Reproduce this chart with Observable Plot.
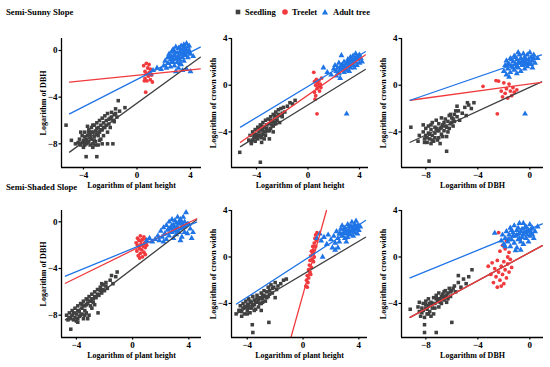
<!DOCTYPE html>
<html><head><meta charset="utf-8">
<script src="https://cdn.jsdelivr.net/npm/d3@7"></script>
<script src="https://cdn.jsdelivr.net/npm/@observablehq/plot@0.6"></script>
<style>
body{margin:0;background:#fff;}
#root{position:relative;width:550px;height:367px;overflow:hidden;font-family:"Liberation Serif","Times New Roman",serif;font-weight:bold;color:#000;}
.abs{position:absolute;white-space:nowrap;line-height:1;}
.panel{position:absolute;}
</style></head><body><div id="root"></div>
<script>
// ---------- data ----------
const groups = ["Seedling", "Treelet", "Adult tree"];
const colors = ["#404040", "#f03a3d", "#1f74e6"];
const symbols = ["square", "circle", "triangle"];
const rowTitles = ["Semi-Sunny Slope", "Semi-Shaded Slope"];
const xLabels = ["Logarithm of plant height", "Logarithm of plant height", "Logarithm of DBH"];
const yLabels = ["Logarithm of DBH", "Logarithm of crown width", "Logarithm of crown width"];
const ticksHeight = [-4, 0, 4];
const ticksDBH = [-8, -4, 0];
const ticksDBHy = [-8, -4, 0];
const ticksCrown = [-4, 0, 4];

// Semi-sunny: plant height vs DBH
const p1Seed = [[-5.3,-6.4],[-4.9,-7.7],[-4.4,-7.9],[-4.3,-7.6],[-4.2,-8.1],[-4.1,-7.3],[-4.0,-7.7],[-4.0,-8.3],[-3.9,-7.0],[-3.8,-7.6],[-3.8,-8.0],[-3.7,-7.3],[-3.6,-6.8],[-3.6,-7.8],[-3.5,-8.1],[-3.5,-7.2],[-3.4,-6.6],[-3.4,-7.6],[-3.3,-7.0],[-3.3,-8.0],[-3.2,-6.4],[-3.2,-7.4],[-3.1,-6.9],[-3.1,-7.8],[-3.0,-6.2],[-3.0,-7.2],[-2.9,-6.6],[-2.9,-8.1],[-2.8,-6.0],[-2.8,-7.0],[-2.7,-6.4],[-2.7,-7.6],[-2.6,-5.8],[-2.6,-6.8],[-2.5,-6.2],[-2.4,-5.6],[-2.4,-6.6],[-2.3,-6.0],[-2.2,-5.4],[-2.1,-6.3],[-2.0,-5.8],[-1.9,-5.3],[-1.8,-6.0],[-1.7,-5.5],[-1.6,-5.0],[-1.5,-5.7],[-1.4,-4.3],[-1.3,-5.2],[-0.9,-4.9],[-3.8,-9.1],[-3.0,-9.1],[-4.6,-8.0],[-3.3,-8.3],[-2.6,-8.0],[-2.2,-8.0],[-1.8,-8.0],[-4.2,-7.0],[-3.7,-6.5],[-2.2,-7.0],[-3.9,-7.9],[-3.1,-8.1],
  [-4.1,-7.9],[-3.9,-7.4],[-3.7,-7.9],[-3.5,-7.5],[-3.4,-7.0],[-3.2,-7.7],[-3.0,-6.7],[-2.9,-7.3],[-2.8,-7.7],[-2.7,-6.8],[-2.5,-6.6],[-2.5,-7.3],[-2.3,-6.4],[-2.1,-5.9],[-2.0,-6.6],[-1.9,-5.7],[-1.7,-6.1],[-1.6,-5.4],[-3.6,-7.0],[-3.9,-8.1],[-4.3,-8.0],[-3.3,-6.4]];
const p1Tree = [[0.5,-1.3],[0.6,-1.8],[0.6,-2.4],[0.7,-1.1],[0.7,-2.0],[0.75,-2.6],[0.8,-1.5],[0.85,-2.2],[0.9,-1.2],[0.9,-1.9],[1.0,-2.5],[1.0,-1.6],[1.1,-2.1],[1.15,-2.7],[0.55,-2.6],[0.65,-3.57]];
const p1Adult = [[2.0,-1.3],[2.1,-0.9],[2.2,-1.5],[2.3,-0.6],[2.3,-1.1],[2.4,-0.3],[2.5,-0.8],[2.5,-1.4],[2.6,-0.1],[2.6,-0.5],[2.7,-1.0],[2.7,0.1],[2.8,-0.4],[2.8,-1.3],[2.9,0.3],[2.9,-0.7],[3.0,-0.2],[3.0,-1.0],[3.1,0.2],[3.1,-0.5],[3.1,-1.5],[3.2,-0.1],[3.2,-0.8],[3.3,0.4],[3.3,-0.3],[3.3,-1.2],[3.4,0.1],[3.4,-0.6],[3.5,0.5],[3.5,-0.2],[3.5,-0.9],[3.6,0.2],[3.6,-0.4],[3.7,0.6],[3.7,-0.1],[3.7,-1.6],[3.8,0.3],[3.8,-0.6],[3.9,0.0],[4.0,-0.3],[4.0,-1.8],[4.2,-0.5],[3.4,-1.7],[1.2,-1.7],[1.5,-1.5],[1.8,-1.6],[1.0,-2.0],[2.9,-1.8],
  [2.4,-0.6],[2.6,-1.0],[2.8,-0.1],[3.0,-0.6],[3.2,0.2],[3.4,-0.3],[3.6,0.0],[3.8,-0.2],[3.2,-1.1],[2.7,-0.7],[3.5,0.2],[3.9,0.4]];
const p1Lines = [[[-5.04,-8.71],[4.73,-0.57]], [[-5.04,-2.71],[4.73,-1.57]], [[-5.04,-5.43],[4.73,0.29]]];

// Semi-sunny: plant height vs crown width
const p2Seed = [[-5.3,-5.75],[-3.7,-6.6],[-4.6,-4.7],[-4.5,-4.3],[-4.4,-4.9],[-4.3,-4.0],[-4.2,-4.5],[-4.1,-3.8],[-4.1,-4.8],[-4.0,-4.2],[-3.9,-3.6],[-3.9,-4.6],[-3.8,-4.0],[-3.7,-3.4],[-3.7,-4.4],[-3.6,-3.8],[-3.5,-4.2],[-3.5,-3.2],[-3.4,-3.6],[-3.4,-4.6],[-3.3,-3.0],[-3.3,-4.0],[-3.2,-3.4],[-3.1,-2.9],[-3.1,-3.9],[-3.0,-3.3],[-2.9,-2.7],[-2.9,-3.7],[-2.8,-3.1],[-2.7,-2.5],[-2.7,-3.5],[-2.6,-2.9],[-2.5,-2.3],[-2.5,-3.3],[-2.4,-2.7],[-2.3,-2.1],[-2.2,-2.6],[-2.1,-2.0],[-2.0,-2.4],[-1.9,-1.9],[-1.8,-2.3],[-1.6,-1.8],[-1.4,-1.5],[-1.2,-1.6],[-1.0,-1.3],[-3.0,-4.6],[-4.4,-5.0],[-3.6,-4.9],[-2.2,-3.2],[-2.7,-4.0],
  [-4.3,-4.7],[-4.0,-4.5],[-3.8,-4.3],[-3.6,-4.5],[-3.5,-3.9],[-3.2,-3.7],[-3.0,-3.9],[-2.8,-3.4],[-2.6,-3.2],[-2.4,-3.0],[-2.3,-2.5],[-2.0,-2.7],[-3.8,-3.7],[-4.2,-4.2],[-3.3,-4.3],[-2.9,-3.0],[-2.6,-2.6],[-3.6,-3.5]];
const p2Tree = [[0.45,1.1],[0.5,0.3],[0.5,-0.6],[0.55,-1.2],[0.6,0.0],[0.65,0.5],[0.7,-0.3],[0.75,0.2],[0.8,-0.1],[0.85,0.4],[0.9,-0.5],[0.95,0.1],[1.0,-0.2],[1.05,0.6],[0.6,-0.9],[0.7,-2.45],[0.9,0.0]];
const p2Adult = [[1.2,1.5],[1.5,1.1],[1.8,0.9],[2.0,1.4],[2.1,1.7],[2.2,1.2],[2.3,1.5],[2.4,1.9],[2.4,1.0],[2.5,1.3],[2.6,1.7],[2.6,2.55],[2.7,1.4],[2.8,2.0],[2.8,1.1],[2.9,1.6],[3.0,1.9],[3.0,1.3],[3.1,2.2],[3.1,1.6],[3.2,1.9],[3.3,2.4],[3.3,1.5],[3.4,2.1],[3.4,1.7],[3.5,2.5],[3.5,1.9],[3.6,2.2],[3.6,1.5],[3.7,2.7],[3.7,2.0],[3.8,2.4],[3.8,1.7],[3.9,2.2],[4.0,2.6],[4.0,1.9],[4.1,2.3],[4.2,2.0],[3.0,-2.45],[2.2,0.8],[2.5,0.6],[3.2,1.2],
  [2.7,1.7],[2.9,1.3],[3.1,1.9],[3.3,2.1],[3.5,1.7],[3.7,2.3],[3.9,2.5],[2.5,1.5],[3.2,1.6],[3.6,2.0]];
const p2Lines = [[[-5.24,-5.26],[4.45,1.35]], [[-5.24,-4.89],[4.45,2.59]], [[-5.24,-3.59],[4.45,2.87]]];

// Semi-sunny: DBH vs crown width
const p3Seed = [[-9.15,-3.6],[-8.5,-4.3],[-8.6,-4.8],[-7.75,-6.5],[-6.4,-5.66],[-8.2,-3.4],[-8.2,-4.0],[-8.1,-4.6],[-8.0,-3.7],[-8.0,-4.3],[-7.9,-4.9],[-7.8,-3.5],[-7.8,-4.1],[-7.7,-4.6],[-7.6,-3.8],[-7.5,-4.3],[-7.5,-3.2],[-7.4,-4.8],[-7.3,-3.6],[-7.3,-4.1],[-7.2,-3.0],[-7.1,-3.9],[-7.0,-4.5],[-7.0,-3.3],[-6.9,-3.7],[-6.8,-2.8],[-6.8,-4.2],[-6.7,-3.4],[-6.6,-3.9],[-6.5,-2.9],[-6.5,-3.5],[-6.4,-4.4],[-6.3,-3.1],[-6.2,-2.6],[-6.2,-3.7],[-6.1,-3.3],[-6.0,-2.8],[-5.9,-3.5],[-5.8,-2.5],[-5.8,-3.1],[-5.6,-2.7],[-5.5,-2.2],[-5.4,-3.0],[-5.2,-2.4],[-5.0,-1.9],[-4.9,-2.6],[-4.7,-1.7],[-4.5,-2.0],[-4.3,-1.5],[-4.8,-1.5],[-5.6,-1.8],[-7.6,-5.0],[-6.9,-5.0],
  [-7.9,-4.5],[-7.7,-4.2],[-7.5,-4.7],[-7.3,-4.5],[-7.2,-3.7],[-7.0,-3.9],[-6.8,-3.6],[-6.6,-3.2],[-6.4,-3.6],[-6.3,-4.0],[-6.0,-3.2],[-5.9,-2.9],[-7.6,-3.4],[-8.1,-4.9],[-7.1,-4.7],[-6.7,-4.4],[-6.1,-2.5],[-5.7,-2.2]];
const p3Tree = [[-3.6,-0.1],[-2.6,0.4],[-2.4,0.35],[-2.2,-0.5],[-2.0,0.2],[-1.9,-0.7],[-1.8,-0.3],[-1.7,-1.1],[-1.6,0.1],[-1.5,-0.5],[-1.4,-0.9],[-1.3,-0.2],[-2.1,-1.0],[-1.2,-0.6],[-2.5,-2.45],[-1.0,-0.4]];
const p3Adult = [[-2.0,1.2],[-1.9,1.7],[-1.8,0.9],[-1.8,2.1],[-1.7,1.4],[-1.6,1.8],[-1.5,1.1],[-1.5,2.3],[-1.4,1.6],[-1.3,2.0],[-1.2,1.3],[-1.2,2.5],[-1.1,1.8],[-1.0,2.2],[-1.0,1.0],[-0.9,1.5],[-0.8,2.6],[-0.8,1.9],[-0.7,1.2],[-0.7,2.3],[-0.6,1.7],[-0.5,2.7],[-0.5,2.0],[-0.4,1.4],[-0.4,2.4],[-0.3,1.9],[-0.2,2.6],[-0.2,1.6],[-0.1,2.2],[0.0,2.8],[0.0,1.8],[0.1,2.4],[0.2,2.1],[0.3,2.6],[0.4,1.9],[0.6,2.3],[-1.6,0.7],[-0.37,-2.45],[-0.9,2.8],[0.2,1.5],
  [-1.7,1.8],[-1.4,2.2],[-1.3,1.5],[-1.1,2.4],[-0.9,1.9],[-0.6,2.1],[-0.3,2.2],[-0.1,1.9],[0.1,1.8],[-1.0,1.6],[-0.4,1.8],[0.3,2.3]];
const p3Lines = [[[-9.2,-4.89],[0.9,0.29]], [[-9.2,-1.29],[0.9,0.25]], [[-9.2,-1.29],[0.9,2.59]]];

// Semi-shaded: plant height vs DBH
const p4Seed = [[-4.7,-8.0],[-4.6,-8.4],[-4.5,-7.8],[-4.4,-8.3],[-4.4,-9.2],[-4.3,-7.6],[-4.3,-8.0],[-4.2,-8.4],[-4.1,-7.4],[-4.0,-7.9],[-3.9,-7.2],[-3.9,-8.3],[-3.8,-7.7],[-3.7,-7.0],[-3.7,-8.0],[-3.6,-7.4],[-3.5,-6.8],[-3.5,-8.3],[-3.4,-7.2],[-3.3,-6.6],[-3.3,-7.8],[-3.2,-7.0],[-3.1,-6.4],[-3.1,-8.0],[-3.0,-6.8],[-2.9,-6.2],[-2.9,-7.4],[-2.8,-6.6],[-2.7,-6.0],[-2.6,-6.5],[-2.5,-5.8],[-2.4,-6.3],[-2.3,-5.6],[-2.2,-6.1],[-2.1,-5.4],[-2.0,-5.9],[-1.9,-5.2],[-1.8,-5.7],[-1.6,-5.0],[-1.4,-5.3],[-1.2,-4.7],[-1.1,-4.3],[-2.46,-7.8],[-3.6,-7.9],[-4.0,-8.5],[-3.2,-8.3],[-2.7,-7.1],[-1.5,-4.6],
  [-4.5,-8.2],[-4.2,-7.8],[-4.1,-8.2],[-3.9,-7.6],[-3.8,-8.1],[-3.6,-7.1],[-3.4,-7.6],[-3.3,-7.1],[-3.2,-6.7],[-3.0,-7.2],[-2.8,-6.9],[-2.7,-6.4],[-2.5,-6.2],[-2.3,-5.9],[-2.1,-5.8],[-1.9,-5.5],[-3.4,-8.0],[-3.9,-8.6],[-2.9,-6.6],[-2.2,-5.3]];
const p4Tree = [[0.25,-1.8],[0.3,-2.5],[0.35,-1.4],[0.4,-2.1],[0.4,-2.9],[0.45,-1.6],[0.5,-2.3],[0.55,-1.2],[0.55,-2.7],[0.6,-1.9],[0.65,-2.4],[0.7,-1.5],[0.7,-3.0],[0.75,-2.1],[0.8,-1.3],[0.8,-2.6],[0.85,-1.8],[0.9,-2.2],[0.95,-1.5],[1.0,-2.0],[0.5,-3.1],[0.35,-2.0],[0.9,-2.8],[0.6,-1.6]];
const p4Adult = [[1.0,-1.6],[1.2,-1.4],[1.4,-1.7],[1.6,-1.5],[1.8,-1.2],[1.9,-1.6],[2.0,-0.8],[2.1,-1.3],[2.2,-0.5],[2.3,-1.0],[2.4,-0.3],[2.4,-1.5],[2.5,-0.7],[2.6,-1.2],[2.6,0.0],[2.7,-0.5],[2.8,-0.9],[2.8,0.2],[2.9,-0.3],[2.9,-1.4],[3.0,-0.7],[3.0,0.1],[3.1,-0.1],[3.1,-1.1],[3.2,-0.5],[3.2,0.4],[3.3,-0.2],[3.3,-0.9],[3.4,0.2],[3.4,-0.6],[3.5,-0.1],[3.5,-1.3],[3.6,0.4],[3.6,-0.4],[3.7,-0.9],[3.7,0.0],[3.8,0.8],[3.8,-0.3],[3.9,-1.0],[4.0,-0.2],[4.1,-0.6],[4.2,-1.4],[4.3,-0.9],[3.4,-1.6],[2.2,-1.7],
  [2.6,-0.6],[2.9,-0.6],[3.1,-0.5],[3.3,0.0],[3.5,-0.5],[3.7,-0.4],[3.9,-0.2],[3.1,-0.8],[3.4,-0.1],[2.8,-0.3]];
const p4Lines = [[[-4.78,-8.4],[4.56,0.17]], [[-4.78,-5.26],[4.56,0.26]], [[-4.78,-4.66],[4.56,-0.03]]];

// Semi-shaded: plant height vs crown width
const p5Seed = [[-4.8,-4.9],[-4.6,-4.6],[-4.5,-4.2],[-4.4,-4.7],[-4.3,-4.0],[-4.3,-4.4],[-4.2,-4.9],[-4.1,-3.8],[-4.1,-4.3],[-4.0,-4.6],[-3.9,-3.6],[-3.9,-4.1],[-3.8,-4.8],[-3.7,-3.9],[-3.7,-4.4],[-3.6,-3.4],[-3.5,-4.1],[-3.5,-3.7],[-3.4,-4.5],[-3.3,-3.3],[-3.3,-3.9],[-3.2,-4.3],[-3.1,-3.5],[-3.0,-3.1],[-3.0,-4.0],[-2.9,-3.6],[-2.8,-2.9],[-2.8,-3.3],[-2.7,-3.8],[-2.6,-3.0],[-2.5,-2.6],[-2.5,-3.4],[-2.4,-2.9],[-2.3,-2.4],[-2.2,-3.1],[-2.1,-2.6],[-2.0,-2.2],[-1.9,-2.8],[-1.8,-2.5],[-1.6,-2.3],[-1.4,-2.0],[-1.2,-1.9],[-3.64,-5.83],[-3.6,-6.5],[-2.45,-5.63],[-3.0,-4.6],[-2.0,-3.5],[-4.4,-5.1],
  [-4.5,-4.6],[-4.2,-4.3],[-4.0,-4.1],[-3.9,-4.4],[-3.8,-3.8],[-3.6,-4.2],[-3.4,-3.9],[-3.2,-3.7],[-3.1,-4.0],[-2.9,-3.3],[-2.7,-3.4],[-2.6,-3.5],[-2.4,-3.2],[-2.2,-2.7],[-4.0,-4.9],[-3.5,-4.6],[-3.3,-3.6],[-2.9,-3.9]];
const p5Tree = [[0.2,-2.5],[0.25,-2.0],[0.3,-1.6],[0.35,-2.2],[0.4,-1.1],[0.4,-1.8],[0.45,-0.7],[0.5,-1.3],[0.5,-0.3],[0.55,0.1],[0.6,-0.9],[0.6,0.5],[0.65,-0.2],[0.7,0.3],[0.7,0.9],[0.75,0.6],[0.8,1.2],[0.8,0.0],[0.85,1.6],[0.9,0.9],[0.95,1.4],[1.0,2.1],[0.9,1.9],[0.3,-2.6],[0.55,-1.5],[0.75,-0.4]];
const p5Adult = [[1.0,1.6],[1.2,2.0],[1.3,1.4],[1.4,0.0],[1.5,1.7],[1.7,1.1],[1.8,1.9],[2.0,1.5],[2.1,0.8],[2.2,1.8],[2.3,1.2],[2.4,2.2],[2.5,1.6],[2.6,2.0],[2.6,1.3],[2.7,2.4],[2.8,1.8],[2.8,2.7],[2.9,2.1],[3.0,1.6],[3.0,2.5],[3.1,2.0],[3.2,2.8],[3.2,1.7],[3.3,2.3],[3.4,2.6],[3.4,1.9],[3.5,3.0],[3.5,2.2],[3.6,2.5],[3.6,1.8],[3.7,2.8],[3.7,2.1],[3.8,2.4],[3.8,3.1],[3.9,2.0],[3.9,2.7],[4.0,2.3],[4.1,2.6],[2.5,0.8],[2.3,0.6],[3.1,1.3],
  [2.9,2.4],[3.1,2.3],[3.3,2.0],[3.5,2.6],[3.7,2.4],[3.9,2.4],[3.3,2.6],[3.6,2.2],[2.7,2.0],[4.0,2.7]];
const p5Lines = [[[-4.77,-4.9],[4.48,1.7]], [[-0.9,-7.06],[1.68,4.0]], [[-4.77,-4.05],[4.48,3.14]]];

// Semi-shaded: DBH vs crown width
const p6Seed = [[-9.2,-4.5],[-8.6,-4.3],[-8.5,-3.9],[-8.5,-4.7],[-8.4,-5.1],[-8.2,-4.0],[-8.2,-4.6],[-8.1,-5.2],[-8.0,-3.8],[-8.0,-4.4],[-7.9,-4.9],[-7.8,-3.6],[-7.8,-4.2],[-7.7,-4.7],[-7.6,-3.9],[-7.5,-4.4],[-7.4,-3.5],[-7.4,-4.9],[-7.3,-4.0],[-7.2,-3.3],[-7.1,-3.8],[-7.0,-4.3],[-7.0,-3.1],[-6.9,-3.6],[-6.8,-4.0],[-6.7,-3.2],[-6.6,-3.7],[-6.5,-2.9],[-6.5,-3.4],[-6.4,-3.9],[-6.3,-3.1],[-6.2,-2.7],[-6.1,-3.4],[-6.0,-2.9],[-5.8,-2.5],[-5.7,-3.0],[-5.5,-2.2],[-5.3,-2.6],[-5.1,-1.9],[-4.9,-2.3],[-4.7,-1.7],[-4.45,-1.1],[-8.1,-5.83],[-8.1,-6.5],[-7.2,-6.5],[-6.0,-5.63],[-7.6,-5.1],[-5.5,-1.6],
  [-8.3,-4.4],[-8.0,-4.1],[-7.9,-4.5],[-7.7,-4.0],[-7.5,-4.0],[-7.3,-4.4],[-7.2,-3.6],[-6.9,-3.9],[-6.8,-3.4],[-6.6,-3.5],[-6.4,-3.3],[-6.3,-3.6],[-6.1,-3.0],[-5.9,-2.7],[-7.8,-4.9],[-8.3,-4.8],[-7.0,-3.6],[-6.6,-3.0]];
const p6Tree = [[-3.2,-0.8],[-3.0,-1.5],[-2.9,-0.5],[-2.8,-2.2],[-2.7,-1.0],[-2.6,-1.7],[-2.5,-2.6],[-2.5,-0.3],[-2.4,-1.3],[-2.3,-2.0],[-2.2,-0.8],[-2.1,-1.5],[-2.0,-2.3],[-2.0,-0.4],[-1.9,-1.1],[-1.8,-1.8],[-1.7,-0.6],[-1.6,-1.3],[-1.5,-0.2],[-1.4,-0.9],[-1.7,0.0],[-2.3,0.5],[-2.1,1.0],[-1.9,0.7],[-1.8,1.4],[-2.4,2.1],[-1.6,0.4],[-2.2,-2.5]];
const p6Adult = [[-2.7,2.05],[-2.2,1.4],[-2.1,1.9],[-2.0,1.1],[-1.9,1.6],[-1.8,2.2],[-1.7,1.3],[-1.6,1.9],[-1.5,2.5],[-1.5,0.9],[-1.4,1.5],[-1.3,2.1],[-1.2,1.2],[-1.2,2.7],[-1.1,1.8],[-1.0,2.3],[-1.0,0.8],[-0.9,1.5],[-0.8,2.0],[-0.8,2.9],[-0.7,1.3],[-0.6,2.4],[-0.6,1.7],[-0.5,2.9],[-0.5,1.1],[-0.4,2.1],[-0.3,1.6],[-0.3,2.6],[-0.2,1.9],[-0.1,2.3],[-0.1,1.3],[0.0,2.8],[0.0,1.8],[0.1,2.1],[0.2,2.5],[0.3,1.6],[0.4,2.2],[0.6,2.6],[-1.1,0.55],[-0.7,0.6],[-1.9,0.9],
  [-1.6,1.5],[-1.3,1.8],[-1.0,1.9],[-0.8,1.6],[-0.7,2.2],[-0.4,2.5],[-0.2,2.2],[0.1,2.4],[-1.4,2.3],[-0.5,1.9],[-0.9,2.5],[0.2,1.9]];
const p6Lines = [[[-9.21,-5.2],[0.96,0.98]], [[-9.21,-5.2],[0.96,0.98]], [[-9.21,-1.8],[0.96,2.85]]];

// ---------- layout ----------
const root = document.getElementById("root");
function addText(txt, left, top, size) {
  const d = document.createElement("div");
  d.className = "abs";
  d.textContent = txt;
  d.style.left = left + "px"; d.style.top = top + "px"; d.style.fontSize = size + "px";
  root.appendChild(d);
}
addText(rowTitles[0], 6, 7.5, 8.7);
addText(rowTitles[1], 6, 182.5, 8.7);

// legend
const legendPos = [[237.7, 245], [285, 292], [325, 333]];
groups.forEach((g, i) => {
  const s = document.createElementNS("http://www.w3.org/2000/svg", "svg");
  s.setAttribute("width", 8); s.setAttribute("height", 8);
  s.style.position = "absolute";
  s.style.left = (legendPos[i][0] - 4) + "px"; s.style.top = "7.5px";
  let shape;
  if (i === 0) { shape = document.createElementNS(s.namespaceURI, "rect"); shape.setAttribute("x", 1.7); shape.setAttribute("y", 1.7); shape.setAttribute("width", 4.6); shape.setAttribute("height", 4.6); }
  else if (i === 1) { shape = document.createElementNS(s.namespaceURI, "circle"); shape.setAttribute("cx", 4); shape.setAttribute("cy", 4); shape.setAttribute("r", 2.8); }
  else { shape = document.createElementNS(s.namespaceURI, "path"); shape.setAttribute("d", "M4,0.9L7.1,6.5L0.9,6.5Z"); }
  shape.setAttribute("fill", colors[i]);
  s.appendChild(shape);
  root.appendChild(s);
  addText(g, legendPos[i][1], 7.5, 8.5);
});

const panels = [
  {left:0, top:28, width:205, height:165, ml:61, mr:4, mt:10, mb:26, xd:[-5.64,4.82], yd:[-10.03,1.03], xt:ticksHeight, yt:ticksDBHy, xl:xLabels[0], yl:yLabels[0], data:[p1Seed,p1Tree,p1Adult], lines:p1Lines},
  {left:195, top:28, width:177, height:165, ml:36, mr:4, mt:10, mb:26, xd:[-5.94,4.70], yd:[-7.05,4.0], xt:ticksHeight, yt:ticksCrown, xl:xLabels[1], yl:yLabels[1], data:[p2Seed,p2Tree,p2Adult], lines:p2Lines},
  {left:365, top:28, width:185, height:165, ml:36, mr:7, mt:10, mb:26, xd:[-9.87,1.05], yd:[-7.05,4.0], xt:ticksDBH, yt:ticksCrown, xl:xLabels[2], yl:yLabels[2], data:[p3Seed,p3Tree,p3Adult], lines:p3Lines},
  {left:0, top:198, width:205, height:167, ml:61, mr:4, mt:12, mb:28, xd:[-5.06,4.9], yd:[-9.91,0.97], xt:ticksHeight, yt:ticksDBHy, xl:xLabels[0], yl:yLabels[0], data:[p4Seed,p4Tree,p4Adult], lines:p4Lines},
  {left:195, top:198, width:177, height:167, ml:36, mr:5, mt:12, mb:28, xd:[-5.13,4.62], yd:[-6.93,4.0], xt:ticksHeight, yt:ticksCrown, xl:xLabels[1], yl:yLabels[1], data:[p5Seed,p5Tree,p5Adult], lines:p5Lines},
  {left:365, top:198, width:185, height:167, ml:36, mr:7, mt:12, mb:28, xd:[-9.87,1.05], yd:[-6.93,4.0], xt:ticksDBH, yt:ticksCrown, xl:xLabels[2], yl:yLabels[2], data:[p6Seed,p6Tree,p6Adult], lines:p6Lines}
];

const radii = [2.0, 1.9, 2.2];
panels.forEach(p => {
  const marks = [];
  p.data.forEach((arr, i) => {
    marks.push(Plot.dot(arr, {x: d => d[0], y: d => d[1], symbol: symbols[i], fill: colors[i], r: radii[i], stroke: "none"}));
  });
  p.lines.forEach((ln, i) => {
    marks.push(Plot.line(ln, {x: d => d[0], y: d => d[1], stroke: colors[i], strokeWidth: 1.3, clip: true}));
  });
  marks.push(Plot.ruleY([p.yd[0]], {stroke: "#000", strokeWidth: 1.3}));
  marks.push(Plot.ruleX([p.xd[0]], {stroke: "#000", strokeWidth: 1.3}));
  marks.push(Plot.axisX({ticks: p.xt, tickSize: 2.5, tickPadding: 1.5, label: null, fontSize: 9, fontWeight: "bold", strokeWidth: 1.2}));
  marks.push(Plot.axisY({ticks: p.yt, tickSize: 2.5, tickPadding: 1.5, label: null, fontSize: 9, fontWeight: "bold", strokeWidth: 1.2}));
  marks.push(Plot.text([p.xl], {frameAnchor: "bottom", dy: 20, fontSize: 8, fontWeight: "bold", fill: "#000", textAnchor: "middle"}));
  marks.push(Plot.text([p.yl], {frameAnchor: "left", rotate: -90, dx: -18, fontSize: 8, fontWeight: "bold", fill: "#000", textAnchor: "middle"}));
  const chart = Plot.plot({
    width: p.width, height: p.height,
    marginLeft: p.ml, marginRight: p.mr, marginTop: p.mt, marginBottom: p.mb,
    style: {fontFamily: "'Liberation Serif', serif", fontWeight: "bold", fontSize: "9px", background: "transparent", overflow: "visible", color: "#000"},
    x: {domain: p.xd},
    y: {domain: p.yd},
    marks
  });
  chart.classList.add("panel");
  chart.style.position = "absolute";
  chart.style.left = p.left + "px";
  chart.style.top = p.top + "px";
  root.appendChild(chart);
});
</script>
</body></html>
